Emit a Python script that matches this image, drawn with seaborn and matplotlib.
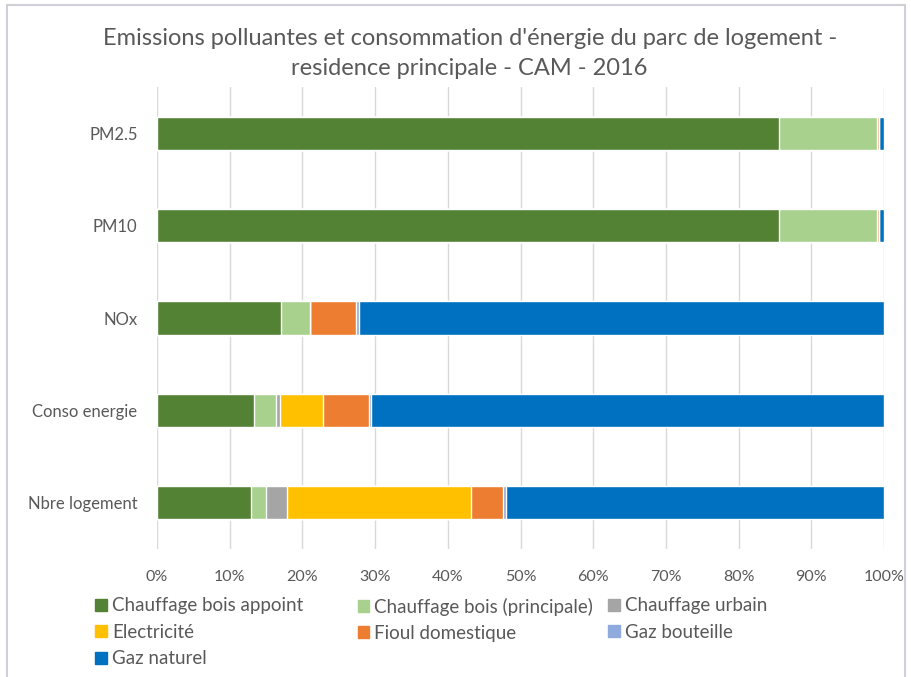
import numpy as np
import pandas as pd
import seaborn as sns
import matplotlib.pyplot as plt
from matplotlib.patches import Patch, Rectangle

categories = ['PM2.5', 'PM10', 'NOx', 'Conso energie', 'Nbre logement']
series = ['Chauffage bois appoint', 'Chauffage bois (principale)', 'Chauffage urbain',
          'Electricité', 'Fioul domestique', 'Gaz bouteille', 'Gaz naturel']

bois_appoint = [85.5, 85.5, 17.1, 13.4, 12.9]
bois_principale = [13.5, 13.5, 3.9, 3.0, 2.1]
urbain = [0.0, 0.0, 0.0, 0.5, 2.9]
electricite = [0.0, 0.0, 0.0, 5.9, 25.3]
fioul = [0.3, 0.3, 6.4, 6.3, 4.4]
gaz_bouteille = [0.05, 0.05, 0.4, 0.3, 0.4]
gaz_naturel = [0.65, 0.65, 72.2, 70.6, 52.0]

colors = ['#548235', '#A9D18E', '#A5A5A5', '#FFC000', '#ED7D31', '#8FAADC', '#0070C0']
grey = '#595959'

df = pd.DataFrame({
    series[0]: bois_appoint, series[1]: bois_principale, series[2]: urbain,
    series[3]: electricite, series[4]: fioul, series[5]: gaz_bouteille,
    series[6]: gaz_naturel,
}, index=categories)
df = df.div(df.sum(axis=1), axis=0) * 100
cum = df.cumsum(axis=1)

sns.set_style('white')
plt.rcParams['font.family'] = ['Lato', 'DejaVu Sans']

fig = plt.figure(figsize=(9.12, 6.77), dpi=100)
ax = fig.add_axes([157 / 912, 1 - 549 / 677, 727 / 912, 462 / 677])

# stacked bars: draw cumulative totals from the last series to the first
for i in range(len(series) - 1, -1, -1):
    d = pd.DataFrame({'cat': categories, 'val': cum[series[i]].values})
    sns.barplot(data=d, x='val', y='cat', color=colors[i], width=0.36,
                saturation=1, ax=ax, orient='h')

ax.set_xlim(0, 100)
ax.set_xticks(np.arange(0, 101, 10))
ax.set_xticklabels([f'{t}%' for t in range(0, 101, 10)])
ax.set_xlabel('')
ax.set_ylabel('')
ax.set_axisbelow(True)
ax.grid(axis='x', color='#D9D9D9', lw=1)
for s in ax.spines.values():
    s.set_visible(False)
ax.tick_params(axis='both', length=0, labelsize=11.5, colors=grey)
ax.tick_params(axis='y', labelsize=12)
ax.tick_params(axis='x', pad=15)
ax.tick_params(axis='y', pad=14)

fig.text(0.515, 0.959, "Emissions polluantes et consommation d'énergie du parc de logement -\nresidence principale - CAM - 2016",
         ha='center', va='top', fontsize=17, color=grey, linespacing=1.55)

# legend laid out row by row, three equal-width columns
handles = [Patch(color=c, label=s) for c, s in zip(colors, series)]
columns = [[0, 3, 6], [1, 4], [2, 5]]
col_x = [88, 350, 601]
for cx, idx in zip(col_x, columns):
    leg = fig.legend([handles[k] for k in idx], [series[k] for k in idx],
                     loc='upper left', bbox_to_anchor=(cx / 912, 1 - 590 / 677),
                     frameon=False, fontsize=13.5, labelcolor=grey,
                     handlelength=0.6, handleheight=0.6, handletextpad=0.3,
                     labelspacing=0.5, borderaxespad=0)

fig.patches.append(Rectangle((7 / 912, -0.01), 898 / 912, 1 - 5 / 677 + 0.01,
                             transform=fig.transFigure, fill=False, ec='#D0D0D8', lw=1.5))

fig.savefig('out.png', dpi=100)
